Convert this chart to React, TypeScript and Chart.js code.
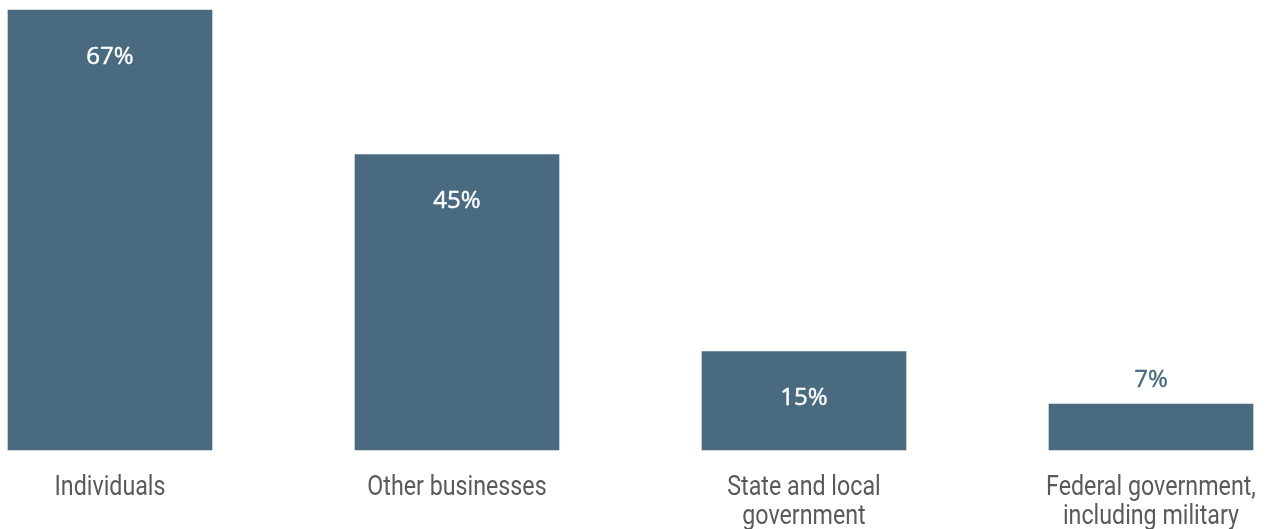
import React, { useEffect, useRef } from "react";
import { Chart, registerables } from "chart.js";

Chart.register(...registerables);

const categories: string[][] = [
  ["Individuals"],
  ["Other businesses"],
  ["State and local", "government"],
  ["Federal government,", "including military"],
];
const values: number[] = [67, 45, 15, 7];
const valueLabels: string[] = ["67%", "45%", "15%", "7%"];

const BAR_COLOR = "#4a6a80";
const LABEL_COLOR = "#5a5a5a";

const labelPlugin = {
  id: "customLabels",
  afterDatasetsDraw(chart: any) {
    const ctx = chart.ctx as CanvasRenderingContext2D;
    const meta = chart.getDatasetMeta(0);
    const xScale = chart.scales.x;
    ctx.save();
    // value labels (regular + thin stroke to emulate medium weight)
    ctx.font = "400 24px 'Open Sans', 'Noto Sans', sans-serif";
    ctx.textAlign = "center";
    ctx.textBaseline = "alphabetic";
    ctx.lineWidth = 0.45;
    ctx.lineJoin = "round";
    meta.data.forEach((bar: any, i: number) => {
      const h = bar.base - bar.y;
      const color = h > 70 ? "#ffffff" : BAR_COLOR;
      const y = h > 70 ? bar.y + 54 : bar.y - 17;
      ctx.fillStyle = color;
      ctx.strokeStyle = color;
      ctx.fillText(valueLabels[i], bar.x, y);
      ctx.strokeText(valueLabels[i], bar.x, y);
    });
    // category labels (condensed)
    ctx.font = "400 28px Roboto, sans-serif";
    ctx.fillStyle = LABEL_COLOR;
    const sx = 0.83;
    categories.forEach((lines, i) => {
      const cx = xScale.getPixelForValue(i);
      lines.forEach((line, j) => {
        ctx.save();
        ctx.translate(cx, 495 + j * 29);
        ctx.scale(sx, 1);
        ctx.fillText(line, 0, 0);
        ctx.restore();
      });
    });
    ctx.restore();
  },
};

export default function App() {
  const ref = useRef<HTMLCanvasElement>(null);
  useEffect(() => {
    if (!ref.current) return;
    const chart = new Chart(ref.current, {
      type: "bar",
      data: {
        labels: categories.map((c) => c.join(" ")),
        datasets: [
          {
            data: values,
            backgroundColor: BAR_COLOR,
            borderWidth: 0,
            barThickness: 204,
            clip: false as any,
          },
        ],
      },
      options: {
        animation: false,
        responsive: true,
        maintainAspectRatio: false,
        layout: { padding: { top: 10, bottom: 79, left: 110, right: 127 } },
        plugins: {
          legend: { display: false },
          tooltip: { enabled: false },
        },
        scales: {
          x: { display: false, offset: false, grid: { display: false } },
          y: { display: false, min: 0, max: 67 },
        },
      },
      plugins: [labelPlugin],
    });
    return () => chart.destroy();
  }, []);
  return (
    <div
      style={{
        position: "fixed",
        left: 0,
        top: 0,
        width: "1278px",
        height: "529px",
        background: "#ffffff",
      }}
    >
      <canvas ref={ref} />
    </div>
  );
}
